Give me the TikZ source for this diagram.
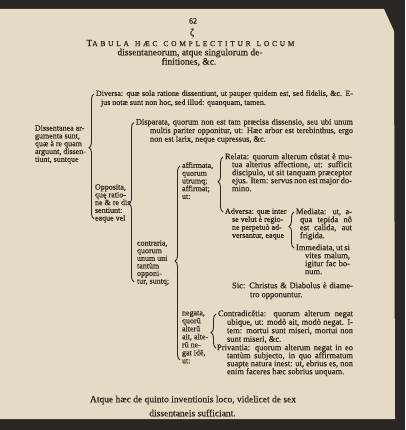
\documentclass[tikz,border=0pt]{standalone}
\usepackage{fontspec}
\setmainfont{Liberation Serif}[FakeBold=0.7]
\usetikzlibrary{decorations.pathreplacing}
\definecolor{page}{HTML}{E5DBC5}
\definecolor{ink}{HTML}{30261D}
\definecolor{edge}{HTML}{2A2623}
\newcommand\jl[2]{\makebox[#1][s]{#2}}
\begin{document}
\begin{tikzpicture}[x=1pt,y=-1pt,
  txt/.style={anchor=north west, inner sep=0pt, outer sep=0pt, align=left, text=ink, font=\fontsize{8}{#1}\selectfont},
  txt/.default=8,
  big/.style={font=\fontsize{8.5}{#1}\selectfont},
  head/.style={inner sep=0pt, outer sep=0pt, text=ink, font=\fontsize{#1}{#1}\selectfont},
  brk/.style={draw=ink, line width=0.9pt, decorate, decoration={brace, amplitude=5pt, aspect=#1}},
  brk/.default=0.5]
\fill[edge] (0,0) rectangle (405,430);
\fill[page] (0,9) -- (384,9) -- (394,31) -- (395,419) -- (0,419) -- cycle;
\useasboundingbox (0,0) rectangle (405,430);

% heading
\node[head=8] (pg) at (193,21) {62};
\node[head=10] (sig) at (192,33) {ζ};
\node[head=7.5] (ttl) at (190.5,43) {\addfontfeature{LetterSpace=36}{\fontsize{9.5}{9.5}\selectfont T}ABULA\hspace{6pt}HÆC\hspace{6pt}COMPLECTITUR\hspace{6pt}LOCUM};
\node[head=9.5] (sub1) at (190,53) {dissentaneorum, atque singulorum de-};
\node[head=9.5] (sub2) at (189,62) {finitiones, \&c.};

% level 0
\node[txt=7.8] (dis) at (35,125.3) {Dissentanea ar-\\gumenta sunt,\\quæ à re quam\\arguunt, dissen-\\tiunt, suntque};

% level 1
\node[txt=9] (div) at (96,90.3) {\jl{257pt}{Diversa: quæ sola ratione dissentiunt, ut pauper quidem est, sed fidelis, \&c. E-}\\\hspace*{5pt}jus notæ sunt non hoc, sed illud: quanquam, tamen.};
\node[txt=7.75] (opp) at (95,184.3) {Opposita,\\quę ratio-\\ne \& re dis\\sentiunt:\\eaque vel};

% level 2
\node[txt=7.3, font=\fontsize{8.3}{7.3}\selectfont] (dsp) at (136,118.8) {\jl{217pt}{Disparata, quorum non est tam præcisa dissensio, seu ubi unum}\\\hspace*{14pt}\jl{203pt}{multis pariter opponitur, ut: Hæc arbor est terebinthus, ergo}\\\hspace*{14pt}non est larix, neque cupressus, \&c.};
\node[txt=7.6] (con) at (137,240.3) {contraria,\\quorum\\unum uni\\tantùm\\opponi-\\tur, suntq;};

% level 3
\node[txt=7.75] (aff) at (182,162.3) {affirmata,\\quorum\\utrumq;\\affirmat;\\ut:};
\node[txt=8] (neg) at (182,310.8) {negata,\\quorũ\\alterũ\\ait, alte-\\rũ ne-\\gat idẽ,\\ut:};

% level 4
\node[txt, big=8] (rel) at (225,153.3) {\jl{127pt}{Relata: quorum alterum cõstat è mu-}\\\hspace*{7pt}\jl{120pt}{tua alterius affectione, ut: sufficit}\\\hspace*{7pt}\jl{120pt}{discipulo, ut sit tanquam præceptor}\\\hspace*{7pt}\jl{120pt}{ejus. Item: servus non est major do-}\\\hspace*{7pt}mino.};
\node[txt=8] (adv) at (225,208.3) {Adversa: quæ inter\\\hspace*{7pt}se velut è regio-\\\hspace*{7pt}ne perpetuò ad-\\\hspace*{7pt}versantur, eaque};
\node[txt, big=8.5] (ctd) at (218,310.3) {\jl{135pt}{Contradicẽtia: quorum alterum negat}\\\hspace*{9pt}\jl{126pt}{ubique, ut: modò ait, modò negat. I-}\\\hspace*{9pt}\jl{126pt}{tem: mortui sunt miseri, mortui non}\\\hspace*{9pt}sunt miseri, \&c.};
\node[txt, big=8] (prv) at (217,344.3) {\jl{136pt}{Privantia: quorum alterum negat in eo}\\\hspace*{10pt}\jl{126pt}{tantùm subjecto, in quo affirmatum}\\\hspace*{10pt}\jl{126pt}{suapte natura inest: ut, ebrius es, non}\\\hspace*{10pt}enim faceres hæc sobrius unquam.};

% level 5
\node[txt, big=8] (med) at (296,208.3) {\jl{56pt}{Mediata: ut, a-}\\\hspace*{4pt}\jl{52pt}{qua tepida nõ}\\\hspace*{4pt}\jl{52pt}{est calida, aut}\\\hspace*{4pt}frigida.};
\node[txt, big=8] (imm) at (296,244.3) {\jl{54pt}{Immediata, ut si}\\\hspace*{9pt}\jl{45pt}{vites malum,}\\\hspace*{9pt}\jl{45pt}{igitur fac bo-}\\\hspace*{9pt}num.};
\node[txt, big=9] (sic) at (232,282.3) {\jl{121pt}{Sic: Christus \& Diabolus è diame-}\\\hspace*{18pt}tro opponuntur.};

% closing
\node[head=9.5] (end1) at (193,400) {Atque hæc de quinto inventionis loco, videlicet de sex};
\node[head=9.5] (end2) at (192.5,413) {dissentaneis sufficiant.};

% braces
\coordinate (b1t) at ([shift={(-2pt,-3.7pt)}]div.north west);
\coordinate (b1y) at ([yshift=3.5pt]opp.south west);
\draw[brk=0.57] (b1t |- b1y) -- (b1t);

\coordinate (b2t) at ([shift={(-2pt,-3.7pt)}]dsp.north west);
\coordinate (b2y) at ([yshift=3.5pt]con.south west);
\draw[brk=0.49] (b2t |- b2y) -- (b2t);

\coordinate (b3t) at ([shift={(-2pt,-3.7pt)}]aff.north west);
\coordinate (b3y) at ([yshift=3.5pt]neg.south west);
\draw[brk=0.51] (b3t |- b3y) -- (b3t);

\coordinate (b4t) at ([shift={(-2pt,-3.7pt)}]rel.north west);
\coordinate (b4y) at ([yshift=-3.7pt]adv.north west);
\draw[brk=0.55] (b4t |- b4y) -- (b4t);

\coordinate (b5t) at ([shift={(-2pt,-3.7pt)}]med.north west);
\coordinate (b5y) at ([yshift=-3.7pt]imm.north west);
\draw[brk=0.6] (b5t |- b5y) -- (b5t);

\coordinate (b6t) at ([shift={(-2pt,-3.7pt)}]ctd.north west);
\coordinate (b6y) at ([yshift=-3.7pt]prv.north west);
\draw[brk=0.45] (b6t |- b6y) -- (b6t);
\end{tikzpicture}
\end{document}
